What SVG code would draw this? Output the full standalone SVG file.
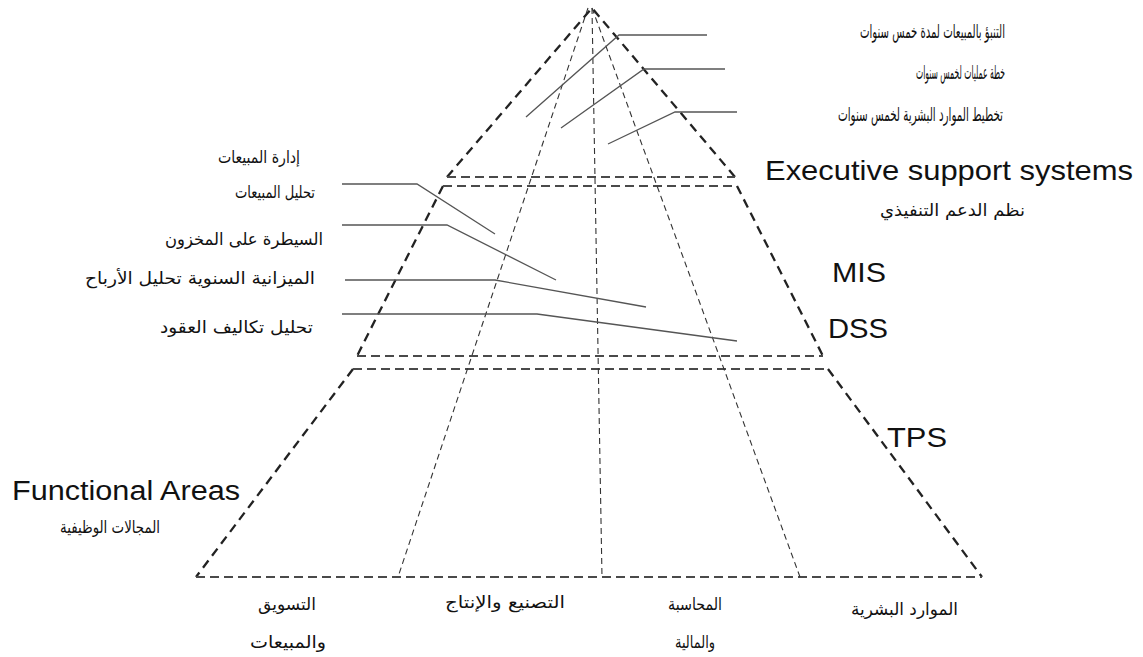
<svg xmlns="http://www.w3.org/2000/svg" width="1143" height="657" viewBox="0 0 1143 657">
<style>
.outer{fill:none;stroke:#222;stroke-width:2.3;stroke-dasharray:9 6}
.band{fill:none;stroke:#4a4a4a;stroke-width:2;stroke-dasharray:9 5}
.div{fill:none;stroke:#333;stroke-width:1.1;stroke-dasharray:6 4}
.lead{fill:none;stroke:#555;stroke-width:1.3}
.en{font-family:"Liberation Sans",Arial,sans-serif;fill:#111}
.ar{font-family:"DejaVu Sans","Noto Sans",sans-serif;fill:#111;font-size:17px}
.arl{font-size:19px}
</style>
<rect width="1143" height="657" fill="#fff"/>
<g id="pyramid">
<path class="outer" d="M447,177 L592,8 L735,177"/>
<line class="band" x1="447" y1="177" x2="735" y2="177"/>
<path class="outer" d="M443,186 L357,356"/>
<path class="outer" d="M737,186 L823,356"/>
<line class="band" x1="443" y1="186" x2="737" y2="186"/>
<line class="band" x1="357" y1="356" x2="823" y2="356"/>
<path class="outer" d="M353,369 L196,577"/>
<path class="outer" d="M828,369 L982,577"/>
<line class="band" x1="353" y1="369" x2="828" y2="369"/>
<line class="band" x1="196" y1="577" x2="982" y2="577"/>
<line class="div" x1="588" y1="8" x2="398" y2="577"/>
<line class="div" x1="592" y1="8" x2="602" y2="577"/>
<line class="div" x1="592" y1="8" x2="800" y2="577"/>
</g>
<g id="connectors">
<path class="lead" d="M526,117 L619,35 L707,35"/>
<path class="lead" d="M561,128 L644,69 L725,69"/>
<path class="lead" d="M608,144 L675,112 L737,112"/>
<path class="lead" d="M342,184 L417,184 L495,234"/>
<path class="lead" d="M342,225 L447,225 L556,280"/>
<path class="lead" d="M345,280 L495,280 L646,307"/>
<path class="lead" d="M342,314 L537,314 L737,341"/>
</g>
<g id="ess-reports">
<text class="ar arl" x="860" y="38" textLength="145" lengthAdjust="spacingAndGlyphs">التنبؤ بالمبيعات لمدة خمس سنوات</text>
<text class="ar arl" x="916" y="79" textLength="89" lengthAdjust="spacingAndGlyphs">خطة عمليات لخمس سنوات</text>
<text class="ar arl" x="838" y="121" textLength="165" lengthAdjust="spacingAndGlyphs">تخطيط الموارد البشرية لخمس سنوات</text>
</g>
<g id="ess">
<text class="en" x="765" y="180" font-size="28" textLength="368" lengthAdjust="spacingAndGlyphs">Executive support systems</text>
<text class="ar" x="880" y="216" textLength="145" lengthAdjust="spacingAndGlyphs">نظم الدعم التنفيذي</text>
</g>
<g id="mis"><text class="en" x="832" y="282" font-size="28" textLength="54" lengthAdjust="spacingAndGlyphs">MIS</text></g>
<g id="dss"><text class="en" x="828" y="338" font-size="28" textLength="60" lengthAdjust="spacingAndGlyphs">DSS</text></g>
<g id="tps"><text class="en" x="887" y="447" font-size="28" textLength="60" lengthAdjust="spacingAndGlyphs">TPS</text></g>
<g id="mis-reports">
<text class="ar" x="218" y="163" textLength="82" lengthAdjust="spacingAndGlyphs">إدارة المبيعات</text>
<text class="ar" x="235" y="198" textLength="80" lengthAdjust="spacingAndGlyphs">تحليل المبيعات</text>
<text class="ar" x="165" y="245" textLength="158" lengthAdjust="spacingAndGlyphs">السيطرة على المخزون</text>
<text class="ar" x="85" y="284" textLength="230" lengthAdjust="spacingAndGlyphs">الميزانية السنوية  تحليل الأرباح</text>
<text class="ar" x="160" y="333" textLength="153" lengthAdjust="spacingAndGlyphs">تحليل تكاليف العقود</text>
</g>
<g id="functional-areas">
<text class="en" x="12" y="500" font-size="27" textLength="228" lengthAdjust="spacingAndGlyphs">Functional Areas</text>
<text class="ar" x="60" y="533" textLength="100" lengthAdjust="spacingAndGlyphs">المجالات الوظيفية</text>
</g>
<g id="marketing">
<text class="ar" x="258" y="610" textLength="58" lengthAdjust="spacingAndGlyphs">التسويق</text>
<text class="ar" x="250" y="648" textLength="76" lengthAdjust="spacingAndGlyphs">والمبيعات</text>
</g>
<g id="manufacturing">
<text class="ar" x="445" y="608" textLength="120" lengthAdjust="spacingAndGlyphs">التصنيع والإنتاج</text>
</g>
<g id="accounting">
<text class="ar" x="668" y="610" textLength="54" lengthAdjust="spacingAndGlyphs">المحاسبة</text>
<text class="ar" x="675" y="648" textLength="40" lengthAdjust="spacingAndGlyphs">والمالية</text>
</g>
<g id="hr">
<text class="ar" x="851" y="615" textLength="107" lengthAdjust="spacingAndGlyphs">الموارد البشرية</text>
</g>
</svg>
